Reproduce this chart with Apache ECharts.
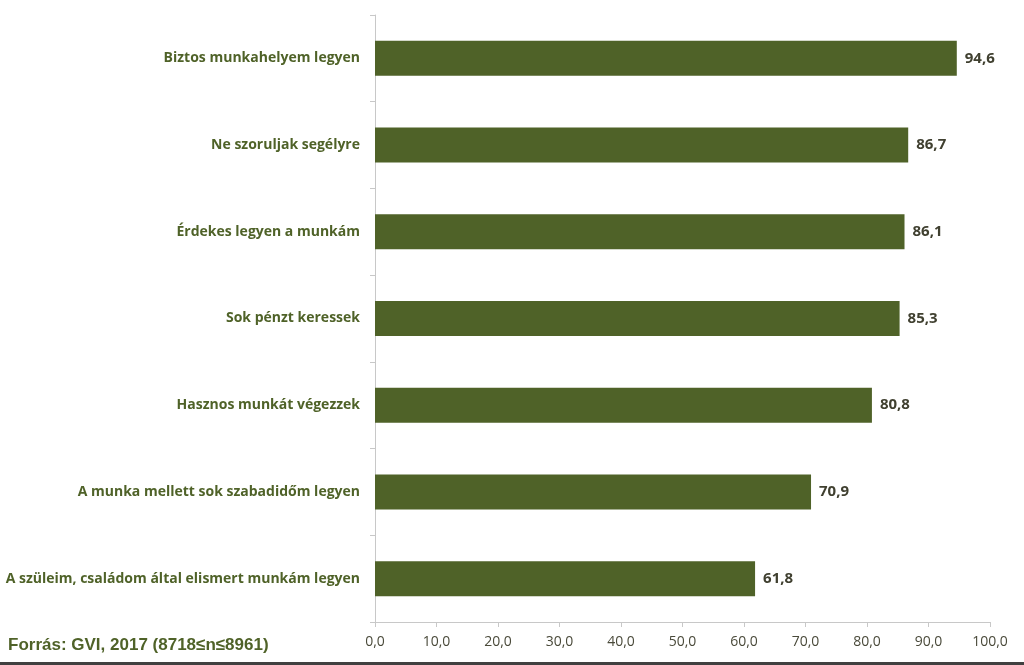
<!DOCTYPE html>
<html>
<head>
<meta charset="utf-8">
<script src="https://cdn.jsdelivr.net/npm/echarts@6/dist/echarts.min.js"></script>
<style>
html,body{margin:0;padding:0;background:#fff;}
#c{width:1024px;height:665px;}
</style>
</head>
<body>
<div id="c"></div>
<script>
const categories = [
  "A szüleim, családom által elismert munkám legyen",
  "A munka mellett sok szabadidőm legyen",
  "Hasznos munkát végezzek",
  "Sok pénzt keressek",
  "Érdekes legyen a munkám",
  "Ne szoruljak segélyre",
  "Biztos munkahelyem legyen"
];
const values = [61.8, 70.9, 80.8, 85.3, 86.1, 86.7, 94.6];
const sourceText = "Forrás: GVI, 2017 (8718≤n≤8961)";

const fmt = v => Number(v).toFixed(1).replace('.', ',');
const chart = echarts.init(document.getElementById('c'));
chart.setOption({
  animation: false,
  grid: {left: 375, right: 34, top: 15, bottom: 43},
  xAxis: {
    type: 'value', min: 0, max: 100, interval: 10,
    axisLine: {show: true, lineStyle: {color: '#c8c8c8'}},
    axisTick: {show: true, length: 5, lineStyle: {color: '#c8c8c8'}},
    splitLine: {show: false},
    axisLabel: {formatter: fmt, color: '#4a4a3a', fontSize: 14, margin: 13, fontFamily: 'Open Sans'}
  },
  yAxis: {
    type: 'category', data: categories,
    axisLine: {show: true, lineStyle: {color: '#c8c8c8'}},
    axisTick: {show: true, length: 5, lineStyle: {color: '#c8c8c8'}},
    axisLabel: {color: '#4f6228', fontWeight: 'bold', fontSize: 14, margin: 15, fontFamily: 'Open Sans'}
  },
  series: [{
    type: 'bar', data: values, barWidth: 35,
    itemStyle: {color: '#4f6228'},
    label: {show: true, position: 'right', distance: 8, formatter: p => fmt(p.value),
      color: '#404030', fontWeight: 'bold', fontSize: 15, fontFamily: 'Open Sans'}
  }],
  graphic: [
    {type: 'text', left: 8, top: 637, style: {text: sourceText, fill: '#4f6228', font: 'bold 17px "Liberation Sans", Arial, sans-serif'}},
    {type: 'rect', left: 0, top: 662, shape: {width: 1024, height: 3}, style: {fill: '#404040'}}
  ]
});
</script>
</body>
</html>
